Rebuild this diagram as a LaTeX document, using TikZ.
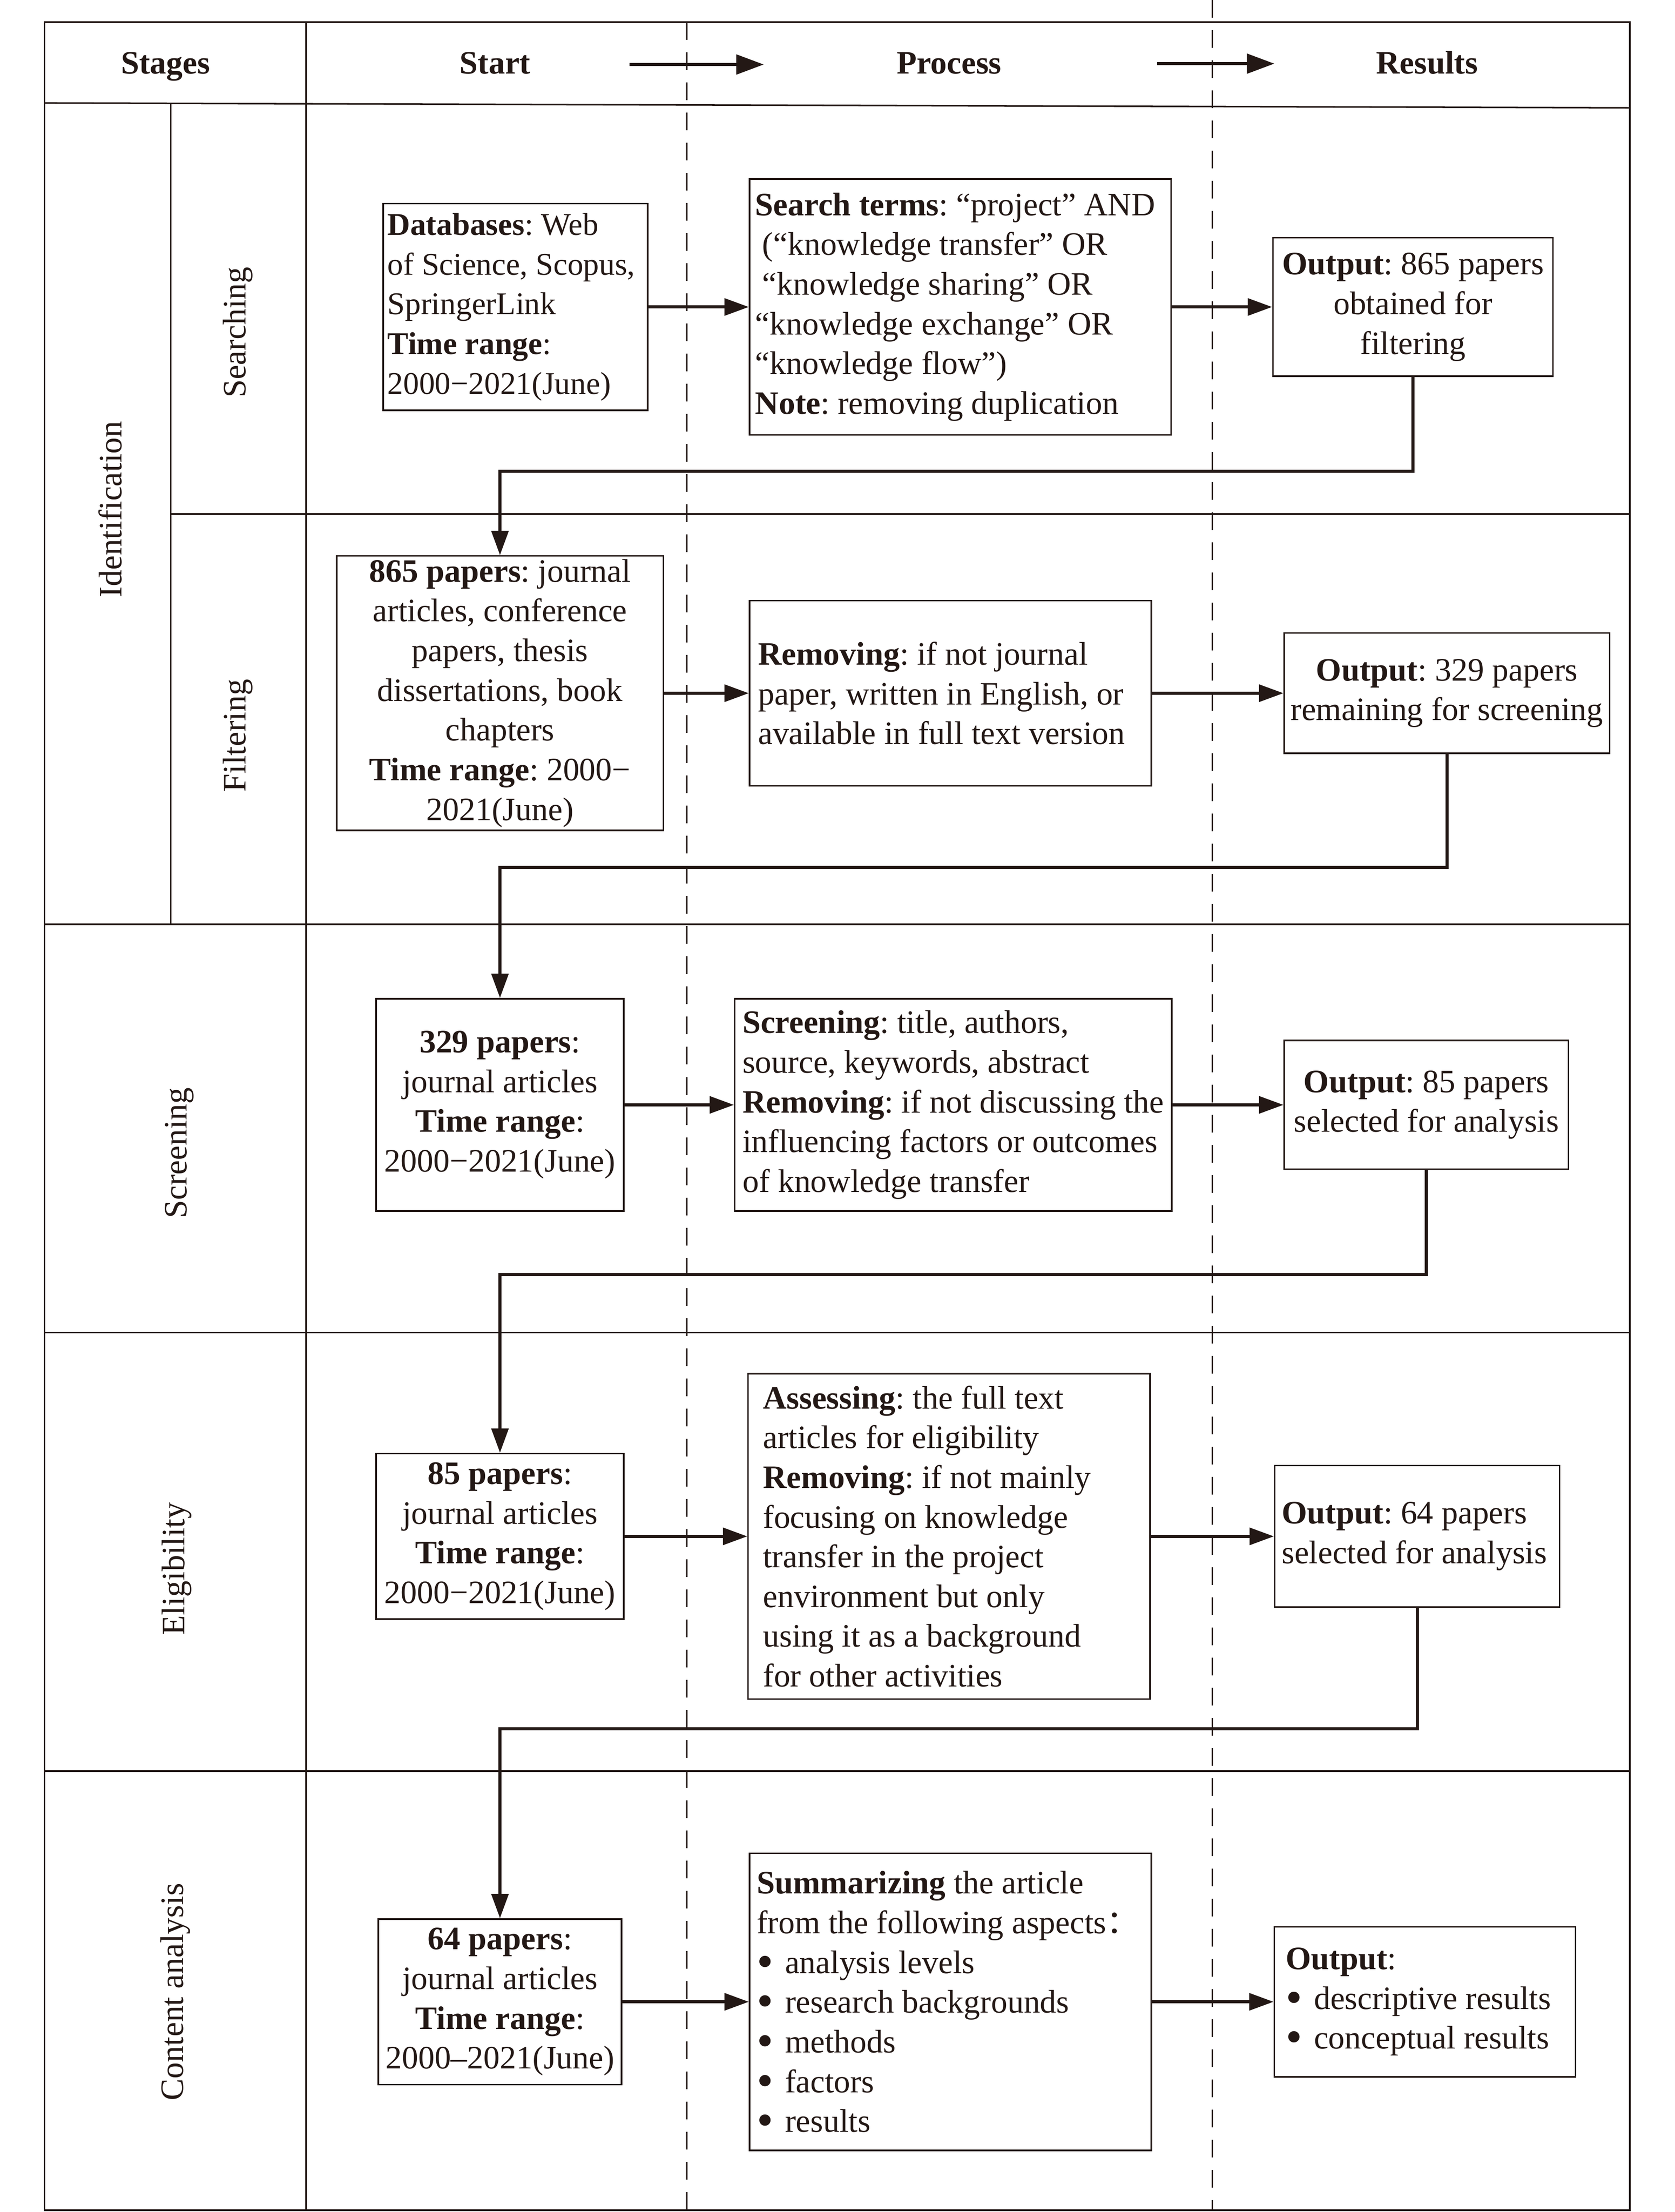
\documentclass[tikz,border=0pt]{standalone}
\usepackage{fontspec}
\setmainfont{Liberation Serif}
\newfontfamily\cjk{Noto Sans CJK SC}
\usepackage{graphicx}
\usepackage{tikz}
\usetikzlibrary{arrows.meta}
\frenchspacing

\definecolor{ink}{RGB}{35,24,21}
\newcommand{\unitpx}{0.031926cm}
\newcommand{\itm}[1]{\makebox[0.64cm][l]{\raisebox{-0.12em}[0pt][0pt]{\scalebox{1.45}{•}}}#1}
\newcommand{\cjkcolon}{\makebox[0.45em][l]{\cjk ：}}
\tikzset{dim/.style 2 args={minimum width=#1*\unitpx,minimum height=#2*\unitpx}}

\begin{document}
\begin{tikzpicture}[x=\unitpx,y=-\unitpx,color=ink,line width=1pt,
                    >={Triangle[length=0.55cm,width=0.38cm]},
                    font=\fontsize{21}{25.5}\selectfont]
  \tikzstyle{box}=[draw,line width=1pt,inner sep=0pt,align=center]
  \tikzstyle{flow}=[->,line width=2pt]
  \tikzstyle{lane}=[line width=0.9pt,dash pattern=on 0.4cm off 0.28cm]
  \tikzstyle{head}=[anchor=base,font=\fontsize{21}{25.5}\selectfont\bfseries]
  \tikzstyle{side}=[rotate=90]

  \useasboundingbox (0,0) rectangle (1184,1563.6);

  % lanes
  \coordinate (la) at (485.5,15.7);
  \coordinate (lb) at (857,0);
  \draw[lane] (la) -- (485.5,1562.4);
  \draw[lane] (lb) -- (857,1562.4);

  % table
  \draw (31.5,15.7) rectangle (1152.4,1562.4);
  \draw (31.5,72.8) -- (1152.4,76.2);
  \draw (216.5,15.7) -- (216.5,1562.4);
  \draw (120.8,73.5) -- (120.8,653.4);
  \draw (120.8,363.4) -- (1152.4,363.4);
  \draw (31.5,653.4) -- (1152.4,653.4);
  \draw (31.5,942) -- (1152.4,942);
  \draw (31.5,1252) -- (1152.4,1252);

  % header
  \node[head] (stages)  at (117,52)  {Stages};
  \node[head] (start)   at (350,52)  {Start};
  \node[head] (process) at (671,52)  {Process};
  \node[head] (results) at (1009,52) {Results};
  \coordinate (hs1) at (445,45.6);
  \coordinate (he1) at (540,45.6);
  \coordinate (hs2) at (818,45);
  \coordinate (he2) at (901,45);
  \draw[flow,>={Triangle[length=0.62cm,width=0.44cm]}] (hs1) -- (he1);
  \draw[flow,>={Triangle[length=0.62cm,width=0.44cm]}] (hs2) -- (he2);

  % stage labels
  \node[side] (ident)  at (77.8,360) {Identification};
  \node[side] (srch)   at (168,235)  {Searching};
  \node[side] (filt)   at (168,520)  {Filtering};
  \node[side] (scrn)   at (127,815)  {Screening};
  \node[side] (elig)   at (125,1109) {Eligibility};
  \node[side] (cont)   at (124,1408) {Content analysis};

  % searching
  \node[box,dim={187}{146},align=flush left,text width=181*\unitpx,inner xsep=3*\unitpx,
        font=\fontsize{20.3}{25.5}\selectfont] (db) at (364.5,217)
    {\textbf{Databases}: Web\\of Science, Scopus,\\SpringerLink\\\textbf{Time range}:\\2000−2021(June)};
  \node[box,dim={298}{181},align=flush left,text width=290*\unitpx,inner xsep=4*\unitpx] (terms) at (679,217)
    {\textbf{Search terms}: “project” AND\\\hspace{0.16cm}(“knowledge transfer” OR\\\hspace{0.16cm}“knowledge sharing” OR\\“knowledge exchange” OR\\“knowledge flow”)\\\textbf{Note}: removing duplication};
  \node[box,dim={198}{98}] (out1) at (999,217)
    {\textbf{Output}: 865 papers\\obtained for\\filtering};

  % filtering
  \node[box,dim={231}{194}] (all) at (353.5,490)
    {\textbf{865 papers}: journal\\articles, conference\\papers, thesis\\dissertations, book\\chapters\\\textbf{Time range}: 2000−\\2021(June)};
  \node[box,dim={284}{131},align=flush left,text width=272*\unitpx,inner xsep=6*\unitpx] (filter) at (672,490)
    {\textbf{Removing}: if not journal\\paper, written in English, or\\available in full text version};
  \node[box,dim={230}{85}] (out2) at (1023,490)
    {\textbf{Output}: 329 papers\\remaining for screening};

  % screening
  \node[box,dim={175}{150}] (jour1) at (353.5,781)
    {\textbf{329 papers}:\\journal articles\\\textbf{Time range}:\\2000−2021(June)};
  \node[box,dim={309}{150},align=left] (screen) at (674,781)
    {\textbf{Screening}: title, authors,\\source, keywords, abstract\\\textbf{Removing}: if not discussing the\\influencing factors or outcomes\\of knowledge transfer};
  \node[box,dim={201}{91}] (out3) at (1008.5,781)
    {\textbf{Output}: 85 papers\\selected for analysis};

  % eligibility
  \node[box,dim={175}{117}] (jour2) at (353.5,1086)
    {\textbf{85 papers}:\\journal articles\\\textbf{Time range}:\\2000−2021(June)};
  \node[box,dim={284}{230},align=flush left,text width=263*\unitpx,inner xsep=10.6*\unitpx] (assess) at (671,1086)
    {\textbf{Assessing}: the full text\\articles for eligibility\\\textbf{Removing}: if not mainly\\focusing on knowledge\\transfer in the project\\environment but only\\using it as a background\\for other activities};
  \node[box,dim={201.5}{100},align=flush left,text width=191.5*\unitpx,inner xsep=5*\unitpx] (out4) at (1002,1086)
    {\textbf{Output}: 64 papers\\selected for analysis};

  % content analysis
  \node[box,dim={172}{117}] (jour3) at (353.5,1415)
    {\textbf{64 papers}:\\journal articles\\\textbf{Time range}:\\2000–2021(June)};
  \node[box,dim={284}{210},align=flush left,text width=274*\unitpx,inner xsep=5*\unitpx] (summ) at (672,1415)
    {\textbf{Summarizing} the article\\from the following aspects\cjkcolon\\\itm{analysis levels}\\\itm{research backgrounds}\\\itm{methods}\\\itm{factors}\\\itm{results}};
  \node[box,dim={213}{106},align=flush left,text width=197*\unitpx,inner xsep=8*\unitpx] (out5) at (1007.5,1415)
    {\textbf{Output}:\\\itm{descriptive results}\\\itm{conceptual results}};

  % flow
  \path (db) edge[flow] (terms)
        (terms) edge[flow] (out1)
        (all) edge[flow] (filter)
        (filter) edge[flow] (out2)
        (jour1) edge[flow] (screen)
        (screen) edge[flow] (out3)
        (jour2) edge[flow] (assess)
        (assess) edge[flow] (out4)
        (jour3) edge[flow] (summ)
        (summ) edge[flow] (out5);

  \coordinate (k1) at (353.5,333);
  \coordinate (k2) at (353.5,613);
  \coordinate (k3) at (353.5,901);
  \coordinate (k4) at (353.5,1222);
  \draw[flow] (out1.south) |- (k1) -- (all.north);
  \draw[flow] (out2.south) |- (k2) -- (jour1.north);
  \draw[flow] (out3.south) |- (k3) -- (jour2.north);
  \draw[flow] (out4.south) |- (k4) -- (jour3.north);
\end{tikzpicture}
\end{document}
